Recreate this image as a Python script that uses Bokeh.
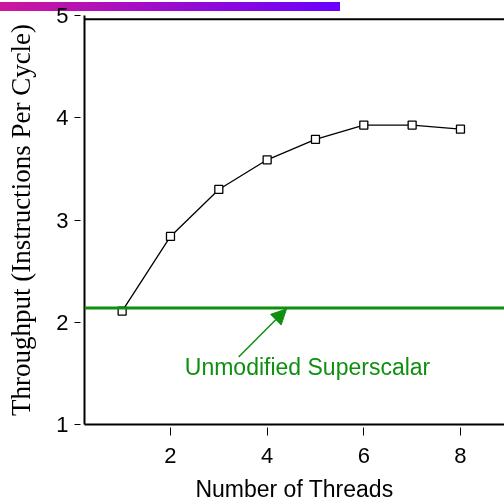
from bokeh.plotting import figure
from bokeh.models import (ColumnDataSource, FixedTicker, LinearAxis, Span,
                          Arrow, NormalHead, Range1d, Div)
from bokeh.layouts import column
from bokeh.core.properties import value
from bokeh.embed import file_html
from bokeh.resources import INLINE

# ---- data ----
threads = [1, 2, 3, 4, 5, 6, 7, 8]
throughput = [2.11, 2.84, 3.30, 3.59, 3.79, 3.93, 3.93, 3.89]
baseline_ipc = 2.14
baseline_label = "Unmodified Superscalar"
x_ticks = [2, 4, 6, 8]
y_ticks = [1, 2, 3, 4, 5]
x_title = "Number of Threads"
y_title = "Throughput (Instructions Per Cycle)"
annot_xy = (4.835, 1.56)
arrow_from = (3.41, 1.66)
arrow_to = (4.40, 2.13)
top_border = 4.965

GREEN = "#0f8f0f"
SANS = "Liberation Sans"
SERIF = "Liberation Serif"

p = figure(frame_width=420, frame_height=409, output_backend="svg", toolbar_location=None,
           x_range=Range1d(0.221, 8.911), y_range=Range1d(1.0, 5.002),
           min_border_left=84, min_border_right=0, min_border_top=15,
           min_border_bottom=60, x_axis_location=None, y_axis_location=None)
p.outline_line_color = None
p.grid.visible = False
p.background_fill_color = "white"
p.border_fill_color = None

# axes
xa = LinearAxis(ticker=FixedTicker(ticks=x_ticks))
xa.axis_line_color = "black"
xa.axis_line_width = 2
xa.major_tick_in = -3
xa.major_tick_out = 11
xa.major_tick_line_width = 1
xa.minor_tick_line_color = None
xa.major_label_standoff = 12
xa.major_label_text_font = SANS
xa.major_label_text_font_size = "22px"
xa.major_label_text_color = "black"
xa.axis_label = x_title
xa.axis_label_text_font = SANS
xa.axis_label_text_font_style = "normal"
xa.axis_label_text_font_size = "23px"
xa.axis_label_text_color = "black"
xa.axis_label_standoff = 10
p.add_layout(xa, "below")

ya = LinearAxis(ticker=FixedTicker(ticks=y_ticks))
ya.axis_line_color = "black"
ya.axis_line_width = 2
ya.major_tick_in = -4
ya.major_tick_out = 10
ya.major_tick_line_width = 1
ya.minor_tick_line_color = None
ya.major_label_standoff = 6
ya.major_label_text_font = SANS
ya.major_label_text_font_size = "22px"
ya.major_label_text_color = "black"
ya.axis_label = y_title
ya.axis_label_text_font = SERIF
ya.axis_label_text_font_style = "normal"
ya.axis_label_text_font_size = "27px"
ya.axis_label_text_color = "black"
ya.axis_label_standoff = 17
p.add_layout(ya, "left")

# top border of the frame
p.add_layout(Span(location=top_border, dimension="width", line_color="black", line_width=2))

# baseline
p.add_layout(Span(location=baseline_ipc, dimension="width", line_color=GREEN, line_width=3))

# series
src = ColumnDataSource(dict(x=threads, y=throughput))
p.line("x", "y", source=src, line_color="black", line_width=1.3)
p.scatter("x", "y", source=src, marker="square", size=8, fill_color="white",
          line_color="black", line_width=1.3)

# annotation
p.add_layout(Arrow(x_start=arrow_from[0], y_start=arrow_from[1],
                   x_end=arrow_to[0], y_end=arrow_to[1],
                   line_color=GREEN, line_width=1.5,
                   end=NormalHead(size=15, fill_color=GREEN, line_color=GREEN)))
tsrc = ColumnDataSource(dict(x=[annot_xy[0]], y=[annot_xy[1]], t=[baseline_label]))
p.text("x", "y", text="t", source=tsrc, text_align="center", text_baseline="middle",
       text_color=GREEN, text_font=value(SANS), text_font_size="23px")

# decorative gradient bar at the top-left of the page (behind the canvas texts)
bar = Div(width=1, height=1, text=(
    '<div style="position:fixed;left:0;top:2px;width:340px;height:9px;z-index:-1;'
    'background:linear-gradient(to right,#cc189c,#6a00ff);"></div>'))

layout = column(p, bar)
open("out.html", "w").write(file_html(layout, INLINE))
